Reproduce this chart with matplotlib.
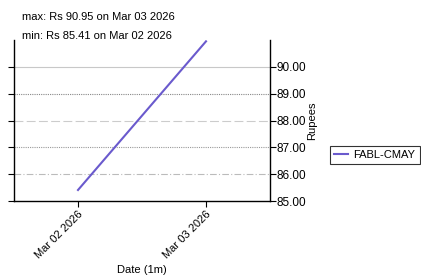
import matplotlib

matplotlib.use("Agg")
import matplotlib.dates as mdates
import matplotlib.pyplot as plt
import pandas as pd

# data
dates = pd.to_datetime(["2026-03-02", "2026-03-03"])
prices = [85.41, 90.95]
series_name = "FABL-CMAY"
y_ticks = [85.0, 86.0, 87.0, 88.0, 89.0, 90.0]

plt.rcParams["font.family"] = ["Liberation Sans", "DejaVu Sans"]

fig = plt.figure(figsize=(4.21, 2.75), dpi=100)
ax = fig.add_axes([14 / 421, 1 - 201 / 275, 256 / 421, 161 / 275])

ax.plot(dates, prices, color="#6a5acd", linewidth=1.5, label=series_name)

ax.set_xlim(dates[0] - pd.Timedelta(hours=12), dates[-1] + pd.Timedelta(hours=12))
ax.set_ylim(85.0, 91.0)

# grid lines, each one drawn a bit differently like the original
grid_styles = {
    86.0: ("#bbbbbb", (0, (6, 2, 1, 2))),
    87.0: ("#999999", (0, (1, 1))),
    88.0: ("#cccccc", (0, (8, 3))),
    89.0: ("#888888", (0, (1, 1))),
    90.0: ("#c8c8c8", "-"),
}
for yv, (col, ls) in grid_styles.items():
    ax.axhline(yv, color=col, linestyle=ls, linewidth=0.8, zorder=0)

ax.xaxis.set_major_locator(mdates.DayLocator())
ax.xaxis.set_major_formatter(mdates.DateFormatter("%b %d %Y"))
for lbl in ax.get_xticklabels():
    lbl.set_rotation(45)
    lbl.set_ha("right")
    lbl.set_rotation_mode("anchor")

ax.set_yticks(y_ticks)
ax.yaxis.set_major_formatter(matplotlib.ticker.FormatStrFormatter("%.2f"))
ax.yaxis.tick_right()
ax.tick_params(axis="y", left=True, right=True, labelleft=False, labelright=True,
               direction="out", length=4, labelsize=8.5, pad=0.5)
ax.tick_params(axis="x", direction="out", length=4, labelsize=8, pad=2)
ax.yaxis.set_label_position("right")
ax.set_ylabel("Rupees", fontsize=8, labelpad=1)
ax.set_xlabel("Date (1m)", fontsize=8, labelpad=3)

ax.spines["top"].set_visible(False)
for s in ["left", "right", "bottom"]:
    ax.spines[s].set_linewidth(1.0)

fig.text(22 / 421, 1 - 17 / 275, "max: Rs 90.95 on Mar 03 2026", fontsize=8, va="center")
fig.text(22 / 421, 1 - 36 / 275, "min: Rs 85.41 on Mar 02 2026", fontsize=8, va="center")

leg = fig.legend(loc="center left", bbox_to_anchor=(330 / 421, 1 - 155 / 275),
                 fontsize=8, frameon=True, fancybox=False, handlelength=1.2,
                 handletextpad=0.5, borderpad=0.4, borderaxespad=0)
leg.get_frame().set_edgecolor("black")
leg.get_frame().set_linewidth(0.8)

fig.savefig("out.png", dpi=100, facecolor="white")
